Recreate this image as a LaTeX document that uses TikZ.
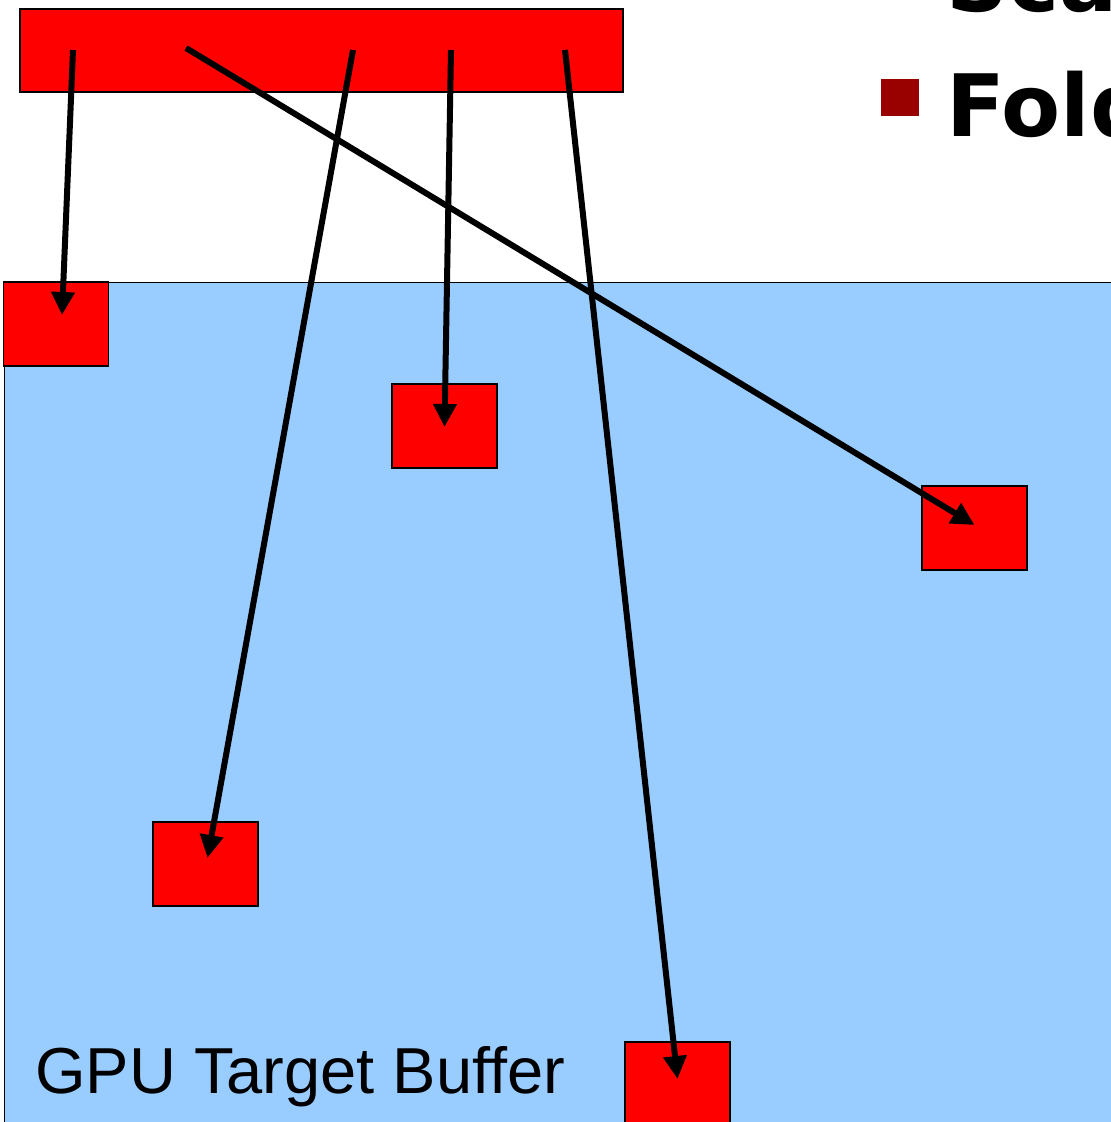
\documentclass[tikz,border=0pt]{standalone}
\usepackage{fontspec}
\setmainfont{Liberation Sans}
\newfontfamily\headfont{DejaVu Sans}
\usetikzlibrary{arrows.meta, positioning, calc}
\definecolor{bufferblue}{HTML}{99CCFF}
\definecolor{bulletred}{HTML}{990000}
\tikzstyle{gpu.buffer} = [rectangle, fill=bufferblue, draw=black, line width=0.8pt, anchor=north west, inner sep=0pt, minimum width=22.6cm, minimum height=17.4cm]
\tikzstyle{gpu.source} = [rectangle, fill=red, draw=black, line width=0.8pt, inner sep=0pt, minimum width=12.06cm, minimum height=1.66cm]
\tikzstyle{gpu.cell} = [rectangle, fill=red, draw=black, line width=0.8pt, inner sep=0pt, minimum width=2.1cm, minimum height=1.68cm]
\tikzstyle{gpu.scatter} = [-{Triangle[length=0.46cm,width=0.45cm]}, line width=0.12cm, black]
\tikzstyle{gpu.head} = [anchor=base west, inner sep=0pt, font=\headfont\bfseries\fontsize{49}{59}\selectfont]

\begin{document}
\begin{tikzpicture}[x=0.02cm, y=-0.02cm]
\useasboundingbox (0,0) rectangle (1111,1122);
\clip (0,0) rectangle (1111,1122);

% bullet text
\node[gpu.head] (sca) at (946,12) {Sca};
\node[fill=bulletred, inner sep=0pt, minimum width=0.76cm, minimum height=0.74cm] (bullet) at (900,97.5) {};
\node[gpu.head] (fold) at (946,136) {Fold};

% source row and target buffer
\node[gpu.source] (source) at (321.5,50.5) {};
\node[gpu.buffer] (buffer) at (4,282) {};
\node[anchor=base west, inner sep=0pt, font=\fontsize{37}{44}\selectfont] (label) at (35,1093) {GPU Target Buffer};

\node[gpu.cell] (cell1) at (56,324) {};
\node[gpu.cell] (cell2) at (444.5,426) {};
\node[gpu.cell] (cell3) at (974.5,528) {};
\node[gpu.cell] (cell4) at (205.5,864) {};
\node[gpu.cell] (cell5) at (677.5,1084) {};

\coordinate (src1) at (73,50);
\coordinate (src2) at (186,48);
\coordinate (src3) at (353,50);
\coordinate (src4) at (451,50);
\coordinate (src5) at (565,50);

\draw[gpu.scatter] (src1) -- ($(cell1.center)+(6,-9)$);
\draw[gpu.scatter] (src2) -- ($(cell3.center)+(0,-3)$);
\draw[gpu.scatter] (src3) -- ($(cell4.center)+(2,-6)$);
\draw[gpu.scatter] (src4) -- ($(cell2.center)+(0,1)$);
\draw[gpu.scatter] (src5) -- ($(cell5.center)+(0,-5)$);
\end{tikzpicture}
\end{document}
